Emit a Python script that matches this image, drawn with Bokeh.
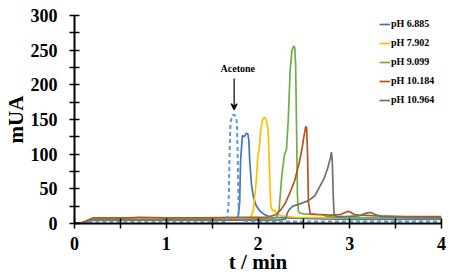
from bokeh.plotting import figure
from bokeh.models import Range1d, FixedTicker, Legend, LegendItem, Arrow, VeeHead, Label
from bokeh.embed import file_html
from bokeh.resources import INLINE

# ---- data ----
t_ph6885 = [0, 0.08, 0.15, 0.2, 0.6, 1.0, 1.4, 1.7, 1.78, 1.80, 1.81, 1.83, 1.85, 1.87, 1.89, 1.90, 1.91, 1.93, 1.95, 1.98, 2.02, 2.08, 2.15, 2.3, 2.6, 3.0, 3.5, 4.0]
v_ph6885 = [0, 1, 4, 5, 5, 5, 5, 5, 6, 30, 90, 127, 125, 130, 129, 120, 90, 55, 38, 26, 18, 12, 9, 8, 7, 6, 6, 6]

t_acetone = [0, 0.1, 0.2, 0.6, 1.0, 1.4, 1.66, 1.68, 1.69, 1.70, 1.72, 1.74, 1.76, 1.77, 1.78, 1.79, 1.82, 2.0, 2.5, 3.0, 3.5, 4.0]
v_acetone = [0, 1, 3, 3, 3, 3, 3, 30, 100, 145, 156, 157, 154, 145, 90, 10, 4, 3, 3, 3, 3, 3]

t_ph7902 = [0, 0.08, 0.15, 0.2, 0.6, 1.0, 1.4, 1.8, 1.92, 1.95, 1.98, 2.00, 2.01, 2.03, 2.05, 2.07, 2.09, 2.11, 2.12, 2.13, 2.14, 2.16, 2.18, 2.2, 2.25, 2.4, 2.8, 3.2, 3.6, 4.0]
v_ph7902 = [0, 1, 5, 7, 7, 7, 7, 7, 8, 20, 60, 100, 104, 135, 150, 153, 150, 135, 100, 55, 25, 18, 20, 15, 11, 9, 8, 8, 8, 8]

t_ph9099 = [0, 0.08, 0.15, 0.2, 0.6, 1.0, 1.4, 1.8, 2.1, 2.2, 2.23, 2.26, 2.29, 2.31, 2.33, 2.35, 2.37, 2.39, 2.40, 2.41, 2.42, 2.43, 2.44, 2.46, 2.5, 2.6, 2.7, 2.75, 3.0, 3.5, 4.0]
v_ph9099 = [0, 1, 4, 6, 6, 6, 6, 6, 7, 8, 20, 70, 100, 106, 150, 220, 250, 256, 254, 230, 140, 40, 18, 15, 14, 13, 13, 10, 8, 8, 7]

t_ph10184 = [0, 0.08, 0.15, 0.2, 0.6, 0.7, 1.0, 1.4, 1.8, 2.1, 2.2, 2.25, 2.3, 2.35, 2.4, 2.45, 2.48, 2.5, 2.52, 2.53, 2.54, 2.55, 2.57, 2.65, 2.8, 2.9, 2.97, 3.0, 3.05, 3.1, 3.3, 3.6, 4.0]
v_ph10184 = [0, 1, 5, 8, 8, 9, 8, 8, 9, 9, 13, 20, 30, 45, 62, 88, 108, 125, 140, 138, 100, 30, 14, 13, 12, 13, 17, 17, 13, 12, 11, 10, 10]

t_ph10964 = [0, 0.08, 0.15, 0.2, 0.6, 1.0, 1.4, 1.8, 2.2, 2.3, 2.32, 2.34, 2.38, 2.45, 2.55, 2.62, 2.68, 2.72, 2.76, 2.79, 2.80, 2.81, 2.82, 2.83, 2.86, 2.95, 3.1, 3.18, 3.23, 3.28, 3.35, 3.6, 4.0]
v_ph10964 = [0, 1, 3, 5, 5, 5, 5, 5, 5, 6, 15, 20, 25, 28, 33, 40, 55, 65, 80, 95, 103, 90, 40, 12, 10, 10, 11, 15, 16, 13, 10, 9, 8]

x_ticks = [0, 1, 2, 3, 4]
x_minor = [0.5, 1.5, 2.5, 3.5]
y_ticks = [0, 50, 100, 150, 200, 250, 300]
y_minor = [25, 75, 125, 175, 225, 275]

acetone_label = "Acetone"
acetone_text_pos = (1.78, 216)
acetone_arrow = (1.74, 209, 1.74, 164)

FONT = "Liberation Serif"

p = figure(width=454, height=276, output_backend="svg", toolbar_location=None,
           x_range=Range1d(0, 4), y_range=Range1d(0, 300),
           min_border_left=73, min_border_right=13, min_border_top=15, min_border_bottom=52)
p.grid.visible = False
p.outline_line_color = None
p.background_fill_color = "white"

series = [
    (t_ph6885, v_ph6885, "#4472C4", "pH 6.885"),
    (t_ph7902, v_ph7902, "#FFC000", "pH 7.902"),
    (t_ph9099, v_ph9099, "#70AD47", "pH 9.099"),
    (t_ph10184, v_ph10184, "#B8541A", "pH 10.184"),
    (t_ph10964, v_ph10964, "#707070", "pH 10.964"),
]
items = []
for t, v, c, name in series:
    r = p.line(t, v, line_color=c, line_width=1.7)
    items.append(LegendItem(label=name, renderers=[r]))

p.line(t_acetone, v_acetone, line_color="#5B9BD5", line_width=2, line_dash="4 3")

# axes
for ax in (p.xaxis[0], p.yaxis[0]):
    ax.axis_line_color = "black"
    ax.axis_line_width = 2
    ax.major_tick_line_color = "black"
    ax.minor_tick_line_color = "black"
    ax.major_tick_line_width = 1.5
    ax.minor_tick_line_width = 1.5
    ax.major_tick_in = 5
    ax.major_tick_out = 5
    ax.minor_tick_in = 5
    ax.minor_tick_out = 5
    ax.major_label_text_font = FONT
    ax.major_label_text_font_style = "bold"
    ax.major_label_text_font_size = "18px"
    ax.major_label_text_color = "black"
    ax.axis_label_text_font = FONT
    ax.axis_label_text_font_style = "bold"
    ax.axis_label_text_font_size = "21px"
    ax.axis_label_text_color = "black"

p.xaxis[0].ticker = FixedTicker(ticks=x_ticks, minor_ticks=x_minor)
p.yaxis[0].ticker = FixedTicker(ticks=y_ticks, minor_ticks=y_minor)
p.xaxis[0].axis_label = "t / min"
p.yaxis[0].axis_label = "mUA"
p.xaxis[0].major_label_standoff = 8
p.xaxis[0].axis_label_standoff = -3
p.yaxis[0].major_label_standoff = 12
p.yaxis[0].axis_label_standoff = 0

legend = Legend(items=items, location=(305, 118), orientation="vertical",
                glyph_width=11, glyph_height=10, label_height=10, label_standoff=1,
                spacing=8, padding=0, margin=0,
                label_text_font=FONT, label_text_font_style="bold",
                label_text_font_size="10px", label_text_color="black",
                border_line_color=None, background_fill_alpha=0)
p.add_layout(legend)

p.add_layout(Arrow(end=VeeHead(size=6, line_color="black", line_width=1.2),
                   x_start=acetone_arrow[0], y_start=acetone_arrow[1],
                   x_end=acetone_arrow[2], y_end=acetone_arrow[3],
                   line_color="black", line_width=1.2))
p.add_layout(Label(x=acetone_text_pos[0], y=acetone_text_pos[1], text=acetone_label,
                   text_font=FONT, text_font_style="bold", text_font_size="10px",
                   text_align="center", text_baseline="bottom", text_color="black"))

open("out.html", "w").write(file_html(p, INLINE))
